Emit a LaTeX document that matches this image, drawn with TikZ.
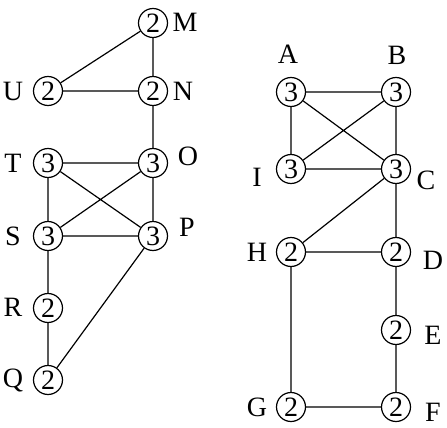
\documentclass[tikz,border=0pt]{standalone}
\usepackage{fontspec}
\setmainfont{Liberation Serif}
\begin{document}
\begin{tikzpicture}[x=1pt,y=-1pt,
  vtx/.style={circle,draw,line width=1.2pt,minimum size=29pt,inner sep=0pt,font=\fontsize{28pt}{28pt}\selectfont},
  lbl/.style={inner sep=0pt,font=\fontsize{28pt}{28pt}\selectfont},
  edge/.style={line width=1.2pt}]
\useasboundingbox (0,0) rectangle (447,428);
% left graph
\node[vtx] (M) at (153,23) {2};
\node[vtx] (U) at (48,91) {2};
\node[vtx] (N) at (153,91) {2};
\node[vtx] (T) at (48,163) {3};
\node[vtx] (O) at (153,163) {3};
\node[vtx] (S) at (48,236) {3};
\node[vtx] (P) at (153,236) {3};
\node[vtx] (R) at (48,308) {2};
\node[vtx] (Q) at (48,380) {2};
\node[lbl] (lM) at (185,22) {M};
\node[lbl] (lU) at (13,91) {U};
\node[lbl] (lN) at (183,91) {N};
\node[lbl] (lT) at (13,163) {T};
\node[lbl] (lO) at (188,156) {O};
\node[lbl] (lS) at (13,236) {S};
\node[lbl] (lP) at (187,227) {P};
\node[lbl] (lR) at (13,307) {R};
\node[lbl] (lQ) at (13,380) {Q};
\draw[edge] (M)--(U) (M)--(N) (U)--(N) (N)--(O) (T)--(O) (T)--(S)
  (T)--(P) (S)--(O) (O)--(P) (S)--(P) (S)--(R) (R)--(Q) (Q)--(P);
% right graph
\node[vtx] (A) at (291,92) {3};
\node[vtx] (B) at (396,92) {3};
\node[vtx] (I) at (291,169) {3};
\node[vtx] (C) at (396,169) {3};
\node[vtx] (H) at (291,252) {2};
\node[vtx] (D) at (396,252) {2};
\node[vtx] (E) at (396,330) {2};
\node[vtx] (G) at (291,407) {2};
\node[vtx] (F) at (396,407) {2};
\node[lbl] (lA) at (288,54) {A};
\node[lbl] (lB) at (397,55) {B};
\node[lbl] (lI) at (257,177) {I};
\node[lbl] (lC) at (426,180) {C};
\node[lbl] (lH) at (257,252) {H};
\node[lbl] (lD) at (433,260) {D};
\node[lbl] (lE) at (433,335) {E};
\node[lbl] (lG) at (257,407) {G};
\node[lbl] (lF) at (433,412) {F};
\draw[edge] (A)--(B) (A)--(I) (A)--(C) (I)--(B) (B)--(C) (I)--(C)
  (C)--(H) (C)--(D) (H)--(D) (H)--(G) (D)--(E) (E)--(F) (G)--(F);
\end{tikzpicture}
\end{document}
